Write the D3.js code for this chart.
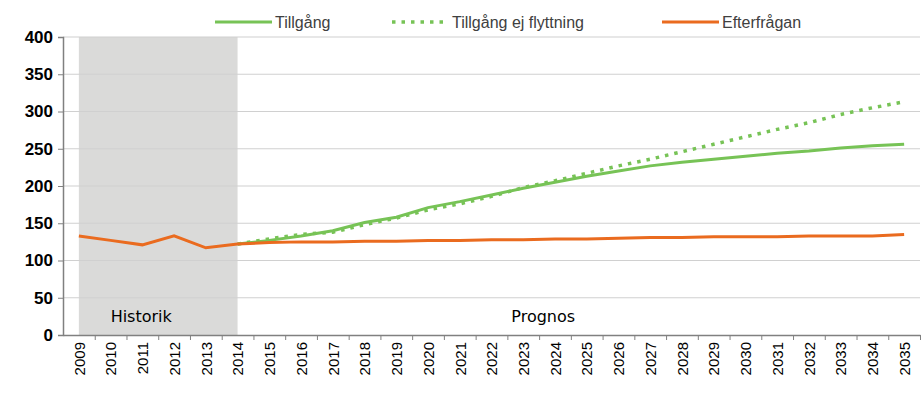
<!DOCTYPE html>
<html><head><meta charset="utf-8">
<script src="https://cdn.jsdelivr.net/npm/d3@7"></script>
<style>body{margin:0;background:#fff}</style>
</head><body><svg id="c" width="921" height="413"></svg>
<script>
const years = d3.range(2009, 2036).map(String);
const efterfragan = [133,127,121,133,117,122,124,125,125,126,126,127,127,128,128,129,129,130,131,131,132,132,132,133,133,133,135];
const tillgangYears = years.slice(5);
const tillgang = [122,127,133,140,151,158,171,179,188,197,205,213,220,227,232,236,240,244,247,251,254,256];
const ejFlyttning = [122,129,135,138,148,157,168,176,186,198,207,217,227,236,246,256,266,276,285,296,305,313];
const yTicks = [0,50,100,150,200,250,300,350,400];

const svg = d3.select("#c");
const margin = {top: 37, right: 1, bottom: 78, left: 63};
const W = 921, H = 413;
const x = d3.scalePoint().domain(years).range([margin.left, W - margin.right]).padding(0.5);
const y = d3.scaleLinear().domain([0, 400]).range([H - margin.bottom, margin.top]);
const font = "Liberation Sans, Arial, sans-serif";

// history shading
svg.append("rect").attr("x", x("2009")).attr("y", y(400))
  .attr("width", x("2014") - x("2009")).attr("height", y(0) - y(400)).attr("fill", "#dadad9");

// grid
svg.append("g").selectAll("line").data(yTicks.filter(d => d > 0)).join("line")
  .attr("x1", margin.left).attr("x2", W - margin.right)
  .attr("y1", d => y(d)).attr("y2", d => y(d))
  .attr("stroke", "#d0d0d0").attr("stroke-width", 1.2);

// axes
const gy = svg.append("g").attr("transform", `translate(${margin.left},0)`)
  .call(d3.axisLeft(y).tickValues(yTicks).tickSize(5).tickPadding(5));
gy.select(".domain").attr("stroke", "#808080").attr("stroke-width", 1.5);
gy.selectAll(".tick line").attr("stroke", "#808080");
gy.selectAll("text").attr("font-family", font).attr("font-size", 17).attr("font-weight", "bold").attr("fill", "#000");

const gx = svg.append("g").attr("transform", `translate(0,${y(0)})`)
  .call(d3.axisBottom(x).tickSize(5).tickSizeOuter(0));
gx.select(".domain").attr("stroke", "#808080").attr("stroke-width", 1.5);
gx.selectAll(".tick line").attr("stroke", "#808080")
  .attr("transform", `translate(${x.step() / 2},0)`);
gx.selectAll("text").attr("font-family", font).attr("font-size", 15).attr("fill", "#000")
  .attr("transform", "rotate(-90)").attr("text-anchor", "end")
  .attr("x", -7).attr("y", 0).attr("dy", "0.35em");

svg.append("text").attr("x", (x("2009") + x("2014")) / 2 - 17).attr("y", y(25) + 6)
  .attr("text-anchor", "middle").attr("font-family", "DejaVu Sans, sans-serif").attr("font-size", 16).attr("fill", "#000").text("Historik");
svg.append("text").attr("x", x("2023") + 20).attr("y", y(25) + 6)
  .attr("text-anchor", "middle").attr("font-family", "DejaVu Sans, sans-serif").attr("font-size", 16).attr("fill", "#000").text("Prognos");

const line = d3.line().x(d => x(d[0])).y(d => y(d[1]));
const green = "#77c356", orange = "#ea6b1f";
svg.append("path").datum(d3.zip(tillgangYears, ejFlyttning)).attr("d", line)
  .attr("fill", "none").attr("stroke", green).attr("stroke-width", 3.5)
  .attr("stroke-dasharray", "3.5 6").attr("stroke-linecap", "butt");
svg.append("path").datum(d3.zip(tillgangYears, tillgang)).attr("d", line)
  .attr("fill", "none").attr("stroke", green).attr("stroke-width", 3);
svg.append("path").datum(d3.zip(years, efterfragan)).attr("d", line)
  .attr("fill", "none").attr("stroke", orange).attr("stroke-width", 3);

// legend
const legend = [
  {label: "Tillgång", x: 215, color: green, dash: null},
  {label: "Tillgång ej flyttning", x: 392, color: green, dash: "3.5 6"},
  {label: "Efterfrågan", x: 662, color: orange, dash: null}
];
const lg = svg.append("g").selectAll("g").data(legend).join("g")
  .attr("transform", d => `translate(${d.x},22)`);
lg.append("line").attr("x1", 0).attr("x2", 57).attr("stroke", d => d.color)
  .attr("stroke-width", d => d.dash ? 3.5 : 3).attr("stroke-dasharray", d => d.dash);
lg.append("text").attr("x", 60).attr("dy", "0.35em").attr("font-family", font)
  .attr("font-size", 16).attr("fill", "#404040").text(d => d.label);
</script></body></html>
